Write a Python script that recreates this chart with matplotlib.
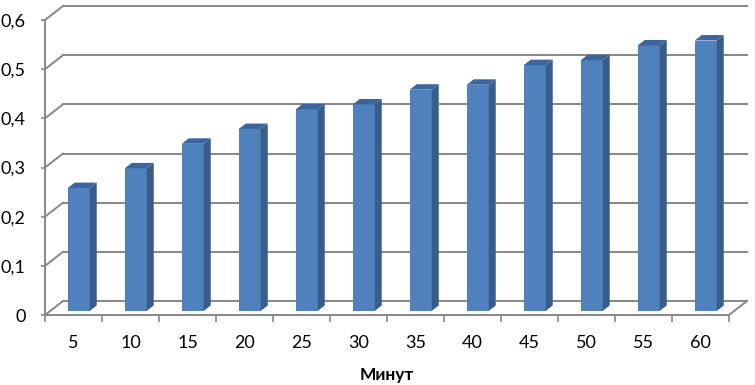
import matplotlib
matplotlib.use("Agg")
import matplotlib.pyplot as plt
from matplotlib.patches import Polygon
import numpy as np

categories = ["5", "10", "15", "20", "25", "30", "35", "40", "45", "50", "55", "60"]
values = [0.25, 0.29, 0.34, 0.37, 0.41, 0.42, 0.45, 0.46, 0.50, 0.51, 0.54, 0.55]
yticks = [0.0, 0.1, 0.2, 0.3, 0.4, 0.5, 0.6]
ytick_labels = ["0", "0,1", "0,2", "0,3", "0,4", "0,5", "0,6"]
xlabel = "Минут"

plt.rcParams['font.family'] = ['Lato', 'DejaVu Sans']

W, H = 755, 385
fig = plt.figure(figsize=(W / 100, H / 100), dpi=100)
ax = fig.add_axes([45 / W, (H - 315) / H, 684 / W, 295 / H])
n = len(categories)
ax.set_xlim(0, n)
ax.set_ylim(0, 0.6)
for s in ax.spines.values():
    s.set_visible(False)

# depth offsets (data units)
DX = 18 / 57.0
DY = 14 / (295 / 0.6)
grid_col = "#878787"
lw = 1.4

# back wall gridlines and left wall diagonals
for t in yticks:
    ax.plot([DX, n + DX], [t + DY, t + DY], color=grid_col, lw=lw, clip_on=False, zorder=1)
    ax.plot([0, DX], [t, t + DY], color=grid_col, lw=lw, clip_on=False, zorder=1)
# floor edges
ax.plot([0, n], [0, 0], color=grid_col, lw=lw, clip_on=False, zorder=1)
ax.plot([n, n + DX], [0, DY], color=grid_col, lw=lw, clip_on=False, zorder=1)
ax.plot([0, 0], [0, 0.6], color=grid_col, lw=lw, clip_on=False, zorder=1)

# bars
f0, f1 = 0.29, 0.68
bw = 0.386
x = np.arange(n) + 0.5
front = "#4F81BD"
side = "#385D8A"
top = "#3C65A0"
ax.bar(x + f0 * DX, values, width=bw, bottom=f0 * DY, color=front, zorder=3, clip_on=False)
dd = f1 - f0
for xi, v in zip(x, values):
    xl = xi + f0 * DX - bw / 2
    xr = xi + f0 * DX + bw / 2
    b = f0 * DY
    tp = v + f0 * DY
    ax.add_patch(Polygon([(xr, b), (xr + dd * DX, b + dd * DY), (xr + dd * DX, tp + dd * DY), (xr, tp)],
                         closed=True, facecolor=side, edgecolor="none", zorder=3, clip_on=False))
    ax.add_patch(Polygon([(xl, tp), (xr, tp), (xr + dd * DX, tp + dd * DY), (xl + dd * DX, tp + dd * DY)],
                         closed=True, facecolor=top, edgecolor="none", zorder=3, clip_on=False))

# ticks
ax.set_yticks(yticks)
ax.set_yticklabels(ytick_labels)
ax.set_xticks(np.arange(n + 1), minor=False)
ax.set_xticklabels([""] * (n + 1))
ax.set_xticks(x, minor=True)
ax.set_xticklabels(categories, minor=True)
ax.tick_params(axis='y', length=3, width=1.2, color=grid_col, pad=11, labelsize=13, labelcolor="black")
ax.tick_params(axis='x', which='major', length=5, width=1.2, color=grid_col, direction='out')
ax.tick_params(axis='x', which='minor', length=0, pad=14.5, labelsize=13, labelcolor="black")
ax.set_xlabel(xlabel, fontsize=12.5, fontweight='bold', labelpad=11.5)

fig.savefig("out.png", dpi=100)
